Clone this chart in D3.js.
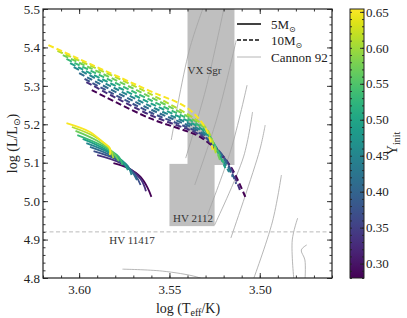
<!DOCTYPE html>
<html>
<head>
<meta charset="utf-8">
<script src="https://cdn.jsdelivr.net/npm/d3@7"></script>
<style>
  body { margin: 0; background: #fff; }
  text { font-family: "Liberation Serif", "DejaVu Serif", serif; fill: #222; }
</style>
</head>
<body>
<div id="chart"></div>
<script>
// initial helium abundance of each track
const yInit = [0.28, 0.33, 0.37, 0.41, 0.45, 0.49, 0.53, 0.57, 0.61, 0.65];

// 10 Msun tracks, [log Teff, log L], one per yInit
const tracks10 = [
  [[3.593,5.289],[3.561,5.216],[3.535,5.172],[3.529,5.154],[3.524,5.133],[3.516,5.089],[3.508,5.011]],
  [[3.596,5.310],[3.561,5.225],[3.535,5.177],[3.529,5.158],[3.518,5.103],[3.511,5.029]],
  [[3.597,5.318],[3.561,5.232],[3.535,5.181],[3.529,5.162],[3.519,5.108],[3.513,5.045]],
  [[3.600,5.333],[3.561,5.240],[3.535,5.186],[3.529,5.166],[3.520,5.112],[3.515,5.063]],
  [[3.603,5.349],[3.561,5.248],[3.535,5.191],[3.529,5.170],[3.517,5.076]],
  [[3.605,5.359],[3.561,5.256],[3.535,5.196],[3.529,5.174],[3.519,5.086]],
  [[3.607,5.370],[3.561,5.264],[3.535,5.201],[3.529,5.178],[3.520,5.099]],
  [[3.609,5.380],[3.561,5.272],[3.535,5.206],[3.529,5.182],[3.522,5.107]],
  [[3.612,5.391],[3.561,5.280],[3.535,5.211],[3.529,5.186],[3.524,5.120]],
  [[3.617,5.406],[3.561,5.287],[3.540,5.242],[3.530,5.190],[3.526,5.133]]
];

// 5 Msun tracks
const tracks5 = [
  [[3.581,5.099],[3.573,5.086],[3.566,5.063],[3.562,5.034],[3.560,5.011]],
  [[3.590,5.120],[3.577,5.099],[3.566,5.058],[3.563,5.026]],
  [[3.592,5.130],[3.579,5.107],[3.569,5.068],[3.566,5.042]],
  [[3.594,5.141],[3.581,5.115],[3.571,5.078],[3.568,5.055]],
  [[3.596,5.151],[3.583,5.125],[3.573,5.091],[3.571,5.068]],
  [[3.598,5.162],[3.586,5.136],[3.576,5.104],[3.573,5.081]],
  [[3.601,5.172],[3.588,5.146],[3.578,5.115],[3.576,5.094]],
  [[3.602,5.183],[3.590,5.157],[3.581,5.125],[3.578,5.104]],
  [[3.604,5.193],[3.591,5.167],[3.583,5.136],[3.581,5.112]],
  [[3.607,5.203],[3.594,5.180],[3.587,5.154],[3.583,5.138],[3.583,5.120]]
];

// Cannon 92 comparison tracks
const cannon = [
  [[3.530,5.52],[3.539,5.393],[3.549,5.159]],
  [[3.519,5.52],[3.530,5.289],[3.541,5.112]],
  [[3.513,5.419],[3.524,5.211],[3.536,5.042]],
  [[3.507,5.302],[3.516,5.133],[3.529,4.964]],
  [[3.504,5.232],[3.509,5.115],[3.525,4.938]],
  [[3.497,5.198],[3.500,5.133],[3.516,4.904]],
  [[3.488,5.068],[3.493,4.946],[3.504,4.79]],
  [[3.479,4.956],[3.482,4.899],[3.481,4.79]],
  [[3.474,4.886],[3.477,4.873],[3.475,4.847],[3.475,4.79]],
  [[3.576,4.823],[3.554,4.818],[3.535,4.803],[3.528,4.79]]
];

// observed stars: [name, tHot, tCool, lLow, lHigh]
const boxes = [
  ["VX Sgr", 3.540, 3.514, 5.094, 5.52],
  ["HV 2112", 3.550, 3.525, 4.935, 5.097]
];
const hv11417L = 4.92;

const xMajor = [3.60, 3.55, 3.50];
const yMajor = [4.8, 4.9, 5.0, 5.1, 5.2, 5.3, 5.4, 5.5];
const cbMajor = [0.30, 0.35, 0.40, 0.45, 0.50, 0.55, 0.60, 0.65];

const W = 407, H = 318;
const plot = {l: 43, r: 332, t: 9, b: 278};
const cbar = {l: 350, r: 364};

const svg = d3.select("#chart").append("svg")
  .attr("width", W).attr("height", H);
svg.append("rect").attr("width", W).attr("height", H).attr("fill", "#fff");

const x = d3.scaleLinear().domain([3.62, 3.46]).range([plot.l, plot.r]);
const y = d3.scaleLinear().domain([4.8, 5.5]).range([plot.b, plot.t]);
const cy = d3.scaleLinear().domain([0.28, 0.654]).range([plot.b, plot.t]);
const color = d3.scaleSequential(d3.interpolateViridis).domain([0.28, 0.654]);

svg.append("clipPath").attr("id", "clip")
  .append("rect").attr("x", plot.l).attr("y", plot.t)
  .attr("width", plot.r - plot.l).attr("height", plot.b - plot.t);

const g = svg.append("g").attr("clip-path", "url(#clip)");

// shaded boxes
g.selectAll("rect.box").data(boxes).join("rect")
  .attr("class", "box")
  .attr("x", d => x(d[1]))
  .attr("width", d => x(d[2]) - x(d[1]))
  .attr("y", d => y(d[4]))
  .attr("height", d => y(d[3]) - y(d[4]))
  .attr("fill", "#bfbfbf");

const line = d3.line().x(d => x(d[0])).y(d => y(d[1])).curve(d3.curveCatmullRom);

g.selectAll("path.cannon").data(cannon).join("path")
  .attr("class", "cannon")
  .attr("d", line)
  .attr("fill", "none").attr("stroke", "#a3a3a3").attr("stroke-width", 0.8);

g.append("line")
  .attr("x1", plot.l).attr("x2", plot.r)
  .attr("y1", y(hv11417L)).attr("y2", y(hv11417L))
  .attr("stroke", "#bbb").attr("stroke-width", 1)
  .attr("stroke-dasharray", "4,2.5");

g.selectAll("path.t10").data(tracks10).join("path")
  .attr("class", "t10")
  .attr("d", line)
  .attr("fill", "none")
  .attr("stroke", (d, i) => color(yInit[i]))
  .attr("stroke-width", 2)
  .attr("stroke-dasharray", "6,3");

g.selectAll("path.t5").data(tracks5).join("path")
  .attr("class", "t5")
  .attr("d", line)
  .attr("fill", "none")
  .attr("stroke", (d, i) => color(yInit[i]))
  .attr("stroke-width", 1.8);

// labels
const lab = svg.append("g").style("font-size", "11px");
lab.append("text").attr("x", 204.5).attr("y", 74).attr("text-anchor", "middle")
  .style("fill", "#333").text("VX Sgr");
lab.append("text").attr("x", 193).attr("y", 222).attr("text-anchor", "middle")
  .style("fill", "#333").text("HV 2112");
lab.append("text").attr("x", 132).attr("y", 244).attr("text-anchor", "middle")
  .style("fill", "#333").text("HV 11417");

// axes
const minorX = d3.range(3.46, 3.6201, 0.01).map(v => +v.toFixed(2));
const minorY = d3.range(4.8, 5.5001, 0.02).map(v => +v.toFixed(2));

function style(sel) {
  sel.select(".domain").remove();
  sel.selectAll("line").attr("stroke", "#222").attr("stroke-width", 0.9);
  sel.selectAll("text").style("font-size", "13px").attr("fill", "#222");
}

svg.append("g").attr("transform", `translate(0,${plot.b})`)
  .call(d3.axisBottom(x).tickValues(xMajor).tickSize(-5).tickPadding(7).tickFormat(d3.format(".2f"))).call(style);
svg.append("g").attr("transform", `translate(0,${plot.b})`)
  .call(d3.axisBottom(x).tickValues(minorX).tickSize(-2.5).tickFormat("")).call(style);
svg.append("g").attr("transform", `translate(0,${plot.t})`)
  .call(d3.axisTop(x).tickValues(xMajor).tickSize(-5).tickFormat("")).call(style);
svg.append("g").attr("transform", `translate(0,${plot.t})`)
  .call(d3.axisTop(x).tickValues(minorX).tickSize(-2.5).tickFormat("")).call(style);

svg.append("g").attr("transform", `translate(${plot.l},0)`)
  .call(d3.axisLeft(y).tickValues(yMajor).tickSize(-5).tickPadding(3).tickFormat(d3.format(".1f"))).call(style);
svg.append("g").attr("transform", `translate(${plot.l},0)`)
  .call(d3.axisLeft(y).tickValues(minorY).tickSize(-2.5).tickFormat("")).call(style);
svg.append("g").attr("transform", `translate(${plot.r},0)`)
  .call(d3.axisRight(y).tickValues(yMajor).tickSize(-5).tickFormat("")).call(style);
svg.append("g").attr("transform", `translate(${plot.r},0)`)
  .call(d3.axisRight(y).tickValues(minorY).tickSize(-2.5).tickFormat("")).call(style);

svg.append("rect")
  .attr("x", plot.l).attr("y", plot.t)
  .attr("width", plot.r - plot.l).attr("height", plot.b - plot.t)
  .attr("fill", "none").attr("stroke", "#222").attr("stroke-width", 1.2);

// axis titles
const xt = svg.append("text").attr("x", 188).attr("y", 313)
  .attr("text-anchor", "middle").style("font-size", "14px");
xt.append("tspan").text("log (T");
xt.append("tspan").attr("dy", 3).style("font-size", "10px").text("eff");
xt.append("tspan").attr("dy", -3).text("/K)");

const yt = svg.append("text")
  .attr("transform", `translate(17,${(plot.t + plot.b) / 2}) rotate(-90)`)
  .attr("text-anchor", "middle").style("font-size", "14px");
yt.append("tspan").text("log (L/L");
yt.append("tspan").attr("dy", 3).style("font-size", "9px").style("font-family", "DejaVu Sans").text("⊙");
yt.append("tspan").attr("dy", -3).text(")");

// legend
const legend = svg.append("g");
const legItems = [
  {label: "5M", sun: true, dash: null, stroke: "#111", w: 1.6},
  {label: "10M", sun: true, dash: "4,2", stroke: "#111", w: 1.6},
  {label: "Cannon 92", sun: false, dash: null, stroke: "#a3a3a3", w: 0.8}
];
const legY = [24, 40, 57];
legItems.forEach((d, i) => {
  legend.append("line").attr("x1", 237).attr("x2", 261)
    .attr("y1", legY[i]).attr("y2", legY[i])
    .attr("stroke", d.stroke).attr("stroke-width", d.w)
    .attr("stroke-dasharray", d.dash);
  const t = legend.append("text").attr("x", 271).attr("y", legY[i] + 4.5)
    .style("font-size", "13px");
  t.append("tspan").text(d.label);
  if (d.sun) {
    t.append("tspan").attr("dy", 3).style("font-size", "8px")
      .style("font-family", "DejaVu Sans").text("⊙");
  }
});

// colorbar
const grad = svg.append("defs").append("linearGradient")
  .attr("id", "vir").attr("x1", 0).attr("y1", 1).attr("x2", 0).attr("y2", 0);
d3.range(0, 1.001, 0.05).forEach(f => {
  grad.append("stop").attr("offset", f).attr("stop-color", d3.interpolateViridis(f));
});
svg.append("rect")
  .attr("x", cbar.l).attr("y", plot.t)
  .attr("width", cbar.r - cbar.l).attr("height", plot.b - plot.t)
  .attr("fill", "url(#vir)").attr("stroke", "#222").attr("stroke-width", 1);

const cbMinor = d3.range(0.28, 0.6541, 0.01).map(v => +v.toFixed(2));
svg.append("g").attr("transform", `translate(${cbar.r},0)`)
  .call(d3.axisRight(cy).tickValues(cbMajor).tickSize(-4).tickPadding(2).tickFormat(d3.format(".2f"))).call(style);
svg.append("g").attr("transform", `translate(${cbar.r},0)`)
  .call(d3.axisRight(cy).tickValues(cbMinor).tickSize(-2).tickFormat("")).call(style);
svg.append("g").attr("transform", `translate(${cbar.l},0)`)
  .call(d3.axisLeft(cy).tickValues(cbMinor).tickSize(-2).tickFormat("")).call(style);

const ct = svg.append("text")
  .attr("transform", `translate(397,${(plot.t + plot.b) / 2}) rotate(-90)`)
  .attr("text-anchor", "middle").style("font-size", "14px");
ct.append("tspan").text("Y");
ct.append("tspan").attr("dy", 3).style("font-size", "10px").text("init");
</script>
</body>
</html>
